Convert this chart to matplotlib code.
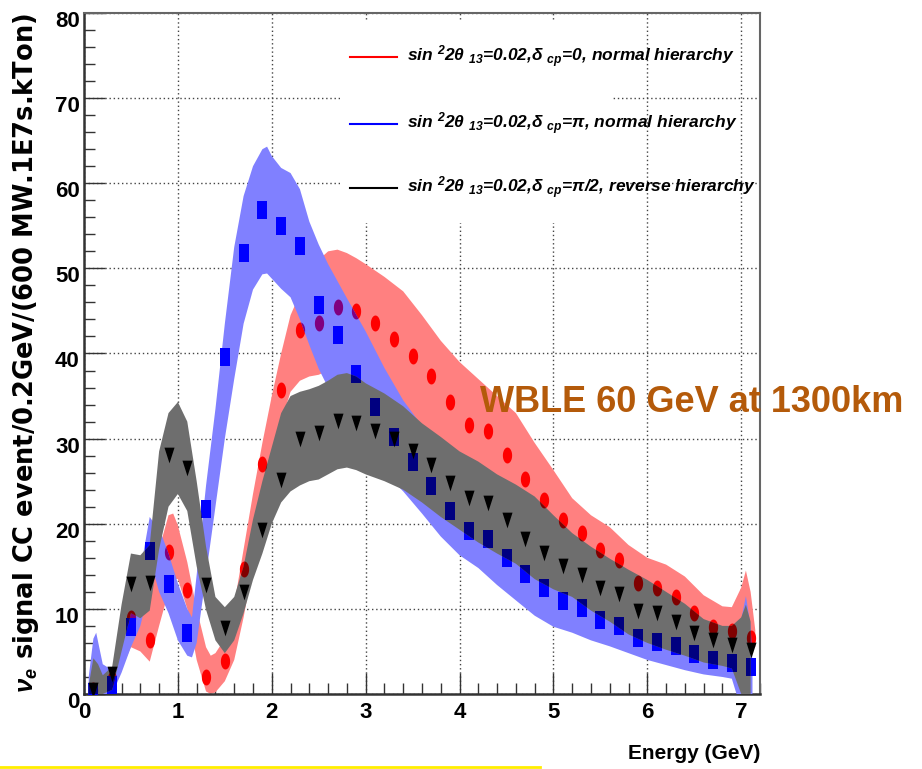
import numpy as np
import matplotlib
matplotlib.use("Agg")
import matplotlib.pyplot as plt
from matplotlib.lines import Line2D
from matplotlib.patches import Rectangle
from matplotlib.ticker import MultipleLocator
import matplotlib.transforms as mtransforms

# bin centres (GeV) of the three event spectra
energy = [0.1, 0.3, 0.5, 0.7, 0.9, 1.1, 1.3, 1.5, 1.7, 1.9, 2.1, 2.3,
          2.5, 2.7, 2.9, 3.1, 3.3, 3.5, 3.7, 3.9, 4.1, 4.3, 4.5, 4.7,
          4.9, 5.1, 5.3, 5.5, 5.7, 5.9, 6.1, 6.3, 6.5, 6.7, 6.9, 7.1]
red_pts = [0.5, 1.8, 8.9, 6.4, 16.7, 12.2, 2.0, 3.9, 14.7, 27.0, 35.7, 42.8,
           43.6, 45.5, 45.0, 43.6, 41.7, 39.7, 37.4, 34.3, 31.6, 30.9, 28.1, 25.3,
           22.8, 20.4, 18.9, 16.9, 15.7, 13.0, 12.4, 11.4, 9.5, 7.9, 7.4, 6.6]
blue_pts = [0.2, 1.1, 7.9, 16.8, 12.9, 7.2, 21.7, 39.6, 51.8, 56.8, 55.0, 52.6,
            45.7, 42.2, 37.6, 33.7, 30.2, 27.3, 24.4, 21.5, 19.2, 18.2, 16.0, 14.1,
            12.4, 10.9, 10.1, 8.7, 8.0, 6.6, 6.1, 5.6, 4.7, 4.0, 3.6, 3.2]
black_pts = [0.5, 2.4, 12.9, 13.0, 28.1, 26.6, 12.8, 7.8, 12.0, 19.3, 25.1, 30.0,
             30.7, 32.1, 31.8, 30.9, 29.9, 28.5, 26.9, 24.8, 23.0, 22.4, 20.4, 18.2,
             16.6, 15.0, 14.0, 12.5, 11.8, 9.7, 9.5, 8.5, 7.2, 6.3, 5.7, 5.2]

# error bands (lower / upper edge)
red_e = [0.05, 0.1, 0.2, 0.3, 0.4, 0.5, 0.6, 0.7, 0.8, 0.9, 0.95, 1.0, 1.1, 1.2, 1.3, 1.35,
         1.4, 1.5, 1.6, 1.7, 1.8, 1.9, 2.0, 2.1, 2.2, 2.3, 2.4, 2.5, 2.6, 2.7, 2.8, 2.9,
         3.0, 3.2, 3.4, 3.6, 3.8, 4.0, 4.2, 4.4, 4.6, 4.8, 5.0, 5.2, 5.4, 5.6, 5.8, 6.0,
         6.2, 6.4, 6.6, 6.8, 6.9, 7.0, 7.05, 7.1, 7.15]
red_lo = [0.0, 0.0, 0.5, 1.0, 3.0, 5.5, 5.0, 3.8, 8.0, 12.0, 13.5, 13.5, 10.0, 4.0, 0.3, 0.0,
          0.2, 1.5, 4.0, 9.0, 15.0, 21.0, 27.0, 32.0, 35.5, 36.8, 37.3, 37.5, 38.0, 38.5, 38.5, 38.0,
          37.0, 35.5, 33.5, 31.0, 29.0, 27.0, 25.5, 23.5, 21.5, 19.5, 17.5, 16.0, 14.5, 13.5, 12.0, 10.5,
          9.5, 8.5, 7.2, 6.5, 6.2, 6.5, 7.0, 6.0, 5.5]
red_hi = [0.5, 1.0, 2.5, 3.0, 7.0, 9.5, 9.5, 10.5, 17.0, 21.0, 21.2, 19.8, 15.5, 10.0, 5.5, 4.5,
          4.8, 6.5, 10.5, 17.0, 23.5, 29.5, 35.0, 40.0, 44.5, 47.0, 49.5, 51.0, 52.0, 52.2, 51.8, 51.2,
          50.5, 49.0, 47.3, 44.5, 41.5, 39.0, 37.0, 35.0, 33.0, 29.5, 26.3, 23.0, 21.0, 19.6, 17.5, 16.0,
          15.2, 13.8, 11.6, 10.3, 10.2, 12.5, 14.5, 12.0, 7.5]

blue_e = [0.05, 0.1, 0.13, 0.2, 0.3, 0.4, 0.5, 0.6, 0.7, 0.75, 0.8, 0.9, 1.0, 1.1, 1.15, 1.2,
          1.3, 1.4, 1.5, 1.6, 1.7, 1.8, 1.9, 1.95, 2.0, 2.1, 2.2, 2.3, 2.4, 2.5, 2.6, 2.8,
          3.0, 3.2, 3.4, 3.6, 3.8, 4.0, 4.2, 4.4, 4.6, 4.8, 5.0, 5.2, 5.4, 5.6, 5.8, 6.0,
          6.2, 6.4, 6.6, 6.8, 6.9, 6.95, 7.05, 7.1, 7.12]
blue_lo = [0.0, 0.0, 0.0, 0.0, 0.0, 2.5, 5.5, 8.0, 12.5, 14.0, 12.0, 9.5, 6.3, 4.5, 4.3, 6.0,
           14.0, 22.0, 30.0, 37.0, 43.5, 47.5, 49.3, 49.4, 48.8, 47.6, 46.6, 44.0, 41.0, 38.2, 36.0, 32.0,
           28.5, 26.0, 23.8, 21.2, 18.5, 16.3, 14.8, 12.8, 11.0, 9.2, 7.9, 7.2, 6.3, 5.6, 4.8, 4.0,
           3.4, 2.8, 2.3, 2.0, 1.8, 0.0, 0.0, 0.0, 0.0]
blue_hi = [2.0, 6.5, 7.2, 3.5, 2.8, 6.5, 9.5, 14.5, 20.8, 20.0, 19.5, 16.5, 13.0, 10.0, 9.0, 14.0,
           24.5, 33.5, 43.5, 52.5, 58.5, 62.0, 64.0, 64.3, 63.2, 61.8, 61.2, 59.3, 55.5, 52.8, 50.5, 46.5,
           42.6, 38.3, 34.5, 31.5, 28.0, 26.0, 24.0, 22.0, 19.5, 17.5, 15.5, 14.0, 12.5, 11.5, 10.0, 9.2,
           8.5, 7.5, 6.5, 5.5, 5.2, 6.0, 11.5, 8.0, 3.5]

gray_e = [0.05, 0.1, 0.15, 0.2, 0.3, 0.4, 0.5, 0.6, 0.7, 0.8, 0.9, 1.0, 1.1, 1.2, 1.3, 1.4,
          1.5, 1.6, 1.7, 1.8, 1.9, 2.0, 2.1, 2.2, 2.3, 2.4, 2.5, 2.6, 2.7, 2.8, 2.9, 3.0,
          3.2, 3.4, 3.6, 3.8, 4.0, 4.2, 4.4, 4.6, 4.8, 5.0, 5.2, 5.4, 5.6, 5.8, 6.0, 6.2,
          6.4, 6.6, 6.8, 6.9, 7.0, 7.05, 7.1]
gray_lo = [0.0, 0.0, 0.0, 0.0, 0.5, 5.0, 9.5, 8.9, 9.8, 17.0, 22.0, 23.5, 21.5, 15.0, 9.9, 6.3,
           4.8, 6.3, 9.5, 13.4, 16.5, 20.0, 22.5, 23.8, 24.5, 25.0, 25.2, 25.8, 26.4, 26.6, 26.3, 25.8,
           25.0, 24.0, 22.5, 20.8, 19.3, 17.8, 16.5, 15.3, 13.5, 12.3, 11.4, 9.8, 8.5, 7.0, 6.0, 5.2,
           4.5, 3.7, 3.3, 3.0, 0.0, 0.0, 0.0]
gray_hi = [1.0, 4.2, 3.5, 2.2, 3.2, 10.5, 16.5, 16.3, 17.5, 28.5, 33.0, 34.3, 32.0, 25.0, 17.3, 11.4,
           10.2, 11.4, 15.0, 20.5, 25.0, 29.0, 33.0, 35.0, 35.5, 35.8, 36.2, 36.8, 37.5, 37.7, 37.3, 36.5,
           35.3, 33.8, 31.8, 30.2, 28.5, 27.3, 25.8, 24.6, 23.2, 21.0, 18.9, 17.3, 15.9, 14.6, 13.4, 12.0,
           10.6, 8.8, 8.0, 8.0, 9.0, 10.5, 8.5]

labels = [r"sin $^{2}$2θ $_{13}$=0.02,δ $_{cp}$=0, normal hierarchy",
          r"sin $^{2}$2θ $_{13}$=0.02,δ $_{cp}$=π, normal hierarchy",
          r"sin $^{2}$2θ $_{13}$=0.02,δ $_{cp}$=π/2, reverse hierarchy"]

sans = ["Liberation Sans", "DejaVu Sans"]
plt.rcParams["mathtext.fontset"] = "custom"
plt.rcParams["mathtext.rm"] = "Liberation Sans:italic:bold"
plt.rcParams["mathtext.it"] = "Liberation Sans:italic:bold"
plt.rcParams["mathtext.bf"] = "Liberation Sans:italic:bold"

fig = plt.figure(figsize=(9.22, 7.69), dpi=100)
ax = fig.add_axes([84 / 922, 75 / 769, 676 / 922, 681 / 769])

t = np.linspace(0, 2 * np.pi, 41)
circ = list(zip(0.58 * np.cos(t), np.sin(t)))
square = [(-0.6, -1), (0.6, -1), (0.6, 1), (-0.6, 1), (-0.6, -1)]
tri_down = [(-0.64, 1), (0.64, 1), (0, -1), (-0.64, 1)]

def band(e, lo, hi, color, z):
    return ax.fill_between(e, lo, hi, facecolor=color, edgecolor="none", zorder=z)

def points(y, marker, ms, color, z, clip=None):
    ln = ax.plot(energy, y, ls="none", marker=marker, ms=ms, mew=0, mfc=color, zorder=z)[0]
    if clip is not None:
        ln.set_clip_path(clip.get_paths()[0], ax.transData)

# ROOT stipple fills: later bands cover earlier bands but let half of the markers through
red_band = band(red_e, red_lo, red_hi, "#ff8080", 2)
points(red_pts, circ, 11.5, "#ff0000", 2.5)
blue_band = band(blue_e, blue_lo, blue_hi, "#8080ff", 3)
points(red_pts, circ, 11.5, "#800080", 3.1, blue_band)
points(blue_pts, square, 12.7, "#0000ff", 3.5)
gray_band = band(gray_e, gray_lo, gray_hi, "#6e6e6e", 4)
points(red_pts, circ, 11.5, "#800000", 4.1, gray_band)
points(blue_pts, square, 12.7, "#000080", 4.1, gray_band)
points(black_pts, tri_down, 11.3, "#000000", 4.5)

ax.set_xlim(0, 7.2)
ax.set_ylim(0, 80)
ax.xaxis.set_major_locator(MultipleLocator(1))
ax.xaxis.set_minor_locator(MultipleLocator(0.2))
ax.yaxis.set_major_locator(MultipleLocator(10))
ax.yaxis.set_minor_locator(MultipleLocator(2))
ax.tick_params(which="both", direction="in", top=False, right=False, color="#333333", width=1)
ax.tick_params(which="major", length=15)
ax.tick_params(which="minor", length=7.7)
ax.tick_params(axis="y", pad=3)
ax.tick_params(axis="x", pad=6)
for lab in ax.get_xticklabels() + ax.get_yticklabels():
    lab.set_family(sans)
    lab.set_fontweight("bold")
    lab.set_fontsize(16)
shift = mtransforms.ScaledTranslation(0, -6 / 100, fig.dpi_scale_trans)
for lab in ax.get_yticklabels():
    lab.set_transform(lab.get_transform() + shift)

ax.set_axisbelow(True)
ax.grid(True, which="major", linestyle=(0, (1, 2)), color="#444444", linewidth=1)
for side in ["top", "right"]:
    ax.spines[side].set_color("#666666")
    ax.spines[side].set_linewidth(1.5)
for side in ["left", "bottom"]:
    ax.spines[side].set_color("#333333")
    ax.spines[side].set_linewidth(1.8)

# legend: white box over the grid, then entries
ax.add_patch(Rectangle((0.379, 0.6916), 0.402, 0.295, transform=ax.transAxes,
                       facecolor="white", edgecolor="none", zorder=1))
for i, (lab, col) in enumerate(zip(labels, ["#ff0000", "#0000ff", "#000000"])):
    yy = (769 - [57, 124, 188][i] - 75) / 681
    ax.add_line(Line2D([0.3935, 0.463], [yy, yy], color=col, lw=1.5, transform=ax.transAxes, zorder=6))
    ax.text(0.478, yy, lab, transform=ax.transAxes, va="center", ha="left", fontsize=12.5,
            family=sans, style="italic", fontweight="bold", zorder=6)

ax.set_xlabel("Energy (GeV)", loc="right", fontsize=15, family=sans, fontweight="bold")
ax.xaxis.set_label_coords(1.0, -0.0734)

fig.text(26 / 922, 1 - 353 / 769, r"$\nu_{e}$ signal CC event/0.2GeV/(600 MW.1E7s.kTon)",
         rotation=90, ha="center", va="center", fontsize=18.5, fontweight="bold",
         family="DejaVu Sans")

fig.text(480 / 922, 1 - 402 / 769, "WBLE 60 GeV at 1300km", color="#b45a0a",
         fontsize=26, fontweight="bold", family=sans, ha="left", va="center")

fig.add_artist(Line2D([0, 540 / 922], [1 - 767 / 769, 1 - 767 / 769], color="#ffee00",
                      lw=2, transform=fig.transFigure))

fig.savefig("out.png", dpi=100)
